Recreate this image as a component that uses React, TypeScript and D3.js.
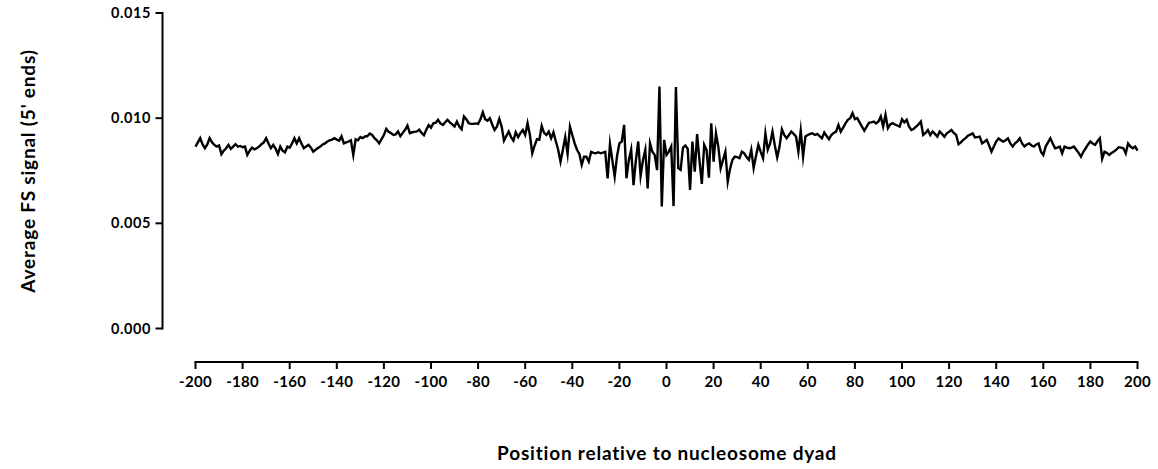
import React from "react";
import * as d3 from "d3";

// Signal values in units of 1e-4 (average FS signal, 5' ends), positions -200..200
const signalNeg200to101 = [
  // -200..-191
  86.5, 88.5, 90.5, 87.5, 85.7, 87.5, 90.5, 88.5, 87.3, 86.5,
  // -190..-181
  87, 82.9, 84.5, 85.7, 87.3, 85.4, 86.5, 87.6, 86.5, 86.8,
  // -180..-171
  86.2, 86.5, 82.5, 84.5, 86, 85.2, 85.7, 86.5, 87.6, 88.5,
  // -170..-161
  90.5, 88, 85.7, 87.3, 85.5, 82.9, 86.5, 84.5, 83.7, 86.5,
  // -160..-151
  86, 88, 90.5, 88, 90.5, 88, 85.7, 86.5, 87.3, 86,
  // -150..-141
  84.1, 85, 85.8, 86.5, 87.5, 88, 88.9, 89.5, 89.8, 90.5,
  // -140..-131
  89.8, 89.3, 91.4, 88, 88.5, 88.9, 89.5, 82.5, 90, 89.5,
  // -130..-121
  91, 90.5, 91.3, 91.5, 92.7, 92, 90.5, 89.5, 88, 90,
  // -120..-111
  92, 94.9, 93.5, 92.9, 92, 92.3, 93.7, 91.4, 93, 94.5,
  // -110..-101
  96.5, 92.9, 93.3, 93.5, 93.7, 94.5, 93, 91.9, 94.5, 96.7,
];
const signalNeg100toNeg1 = [
  // -100..-91
  95.5, 97.6, 97.8, 99.2, 97.5, 96.8, 98, 99.2, 98, 97,
  // -90..-81
  96, 98.4, 96, 94.7, 100.8, 99.5, 97.6, 97.3, 97.3, 97.5,
  // -80..-71
  97.3, 99.5, 102.8, 99.5, 98.8, 100, 97, 94.4, 96, 99.7,
  // -70..-61
  96, 89.3, 91.5, 93.6, 91, 89.3, 93.3, 91, 93, 94.4,
  // -60..-51
  92, 97.6, 92, 83.3, 87, 90, 89.7, 96.3, 93, 92,
  // -50..-41
  93.6, 90.4, 93.3, 89, 85, 79.3, 85, 91, 83, 96,
  // -40..-31
  92, 88, 85, 83, 77.8, 81.7, 81.7, 79.3, 84, 83.5,
  // -30..-21
  83.3, 83.8, 83.3, 83.6, 84, 71.4, 87.7, 80, 72.2, 82,
  // -20..-11
  88, 88.9, 96.8, 71.4, 80, 85, 68.2, 80, 88.9, 72.5,
  // -10..-1
  80, 85, 66.6, 88, 84, 82.5, 75.3, 115, 58, 89.7,
];
const signal0to99 = [
  // 0..9
  82.5, 84.1, 86.5, 58.2, 114.8, 76.2, 75.4, 86, 87, 85.5,
  // 10..19
  65.9, 88.9, 74.6, 92.4, 80, 68.7, 87.3, 84.9, 71.7, 97.6,
  // 20..29
  79.3, 92.8, 86.5, 76.2, 80.2, 84.1, 69.8, 76, 80.2, 81.7,
  // 30..39
  81.5, 81, 84.1, 83.3, 81.5, 80.2, 85, 76.2, 82, 87.3,
  // 40..49
  84, 81, 92.8, 85, 88, 93.6, 87, 81.4, 86.5, 94.7,
  // 50..59
  92, 90.5, 92, 93.6, 92.5, 91.3, 84.1, 94.1, 81.7, 91.3,
  // 60..69
  92, 92.5, 92.8, 92, 92.5, 91.5, 90.5, 93.2, 91.5, 90,
  // 70..79
  92, 93, 93.6, 96.8, 93.6, 95.5, 97.5, 99.2, 100, 102.4,
  // 80..89
  99.5, 100, 98, 96, 94.1, 96, 97.9, 98, 98.4, 97.5,
  // 90..99
  98.4, 100.8, 96, 101.6, 95.2, 97, 97.6, 97, 96.5, 96,
];
const signal100to200 = [
  // 100..109
  99.5, 98, 99.2, 96, 94.4, 95, 96, 97, 98.4, 92,
  // 110..119
  93, 94.4, 92, 93.6, 92.5, 91.2, 93.6, 92.5, 91.2, 92.8,
  // 120..129
  93.5, 94.4, 93, 92, 87.6, 88.5, 89.7, 90.5, 91.7, 92.2,
  // 130..139
  92.8, 90.8, 91, 91.2, 88, 88.8, 89.7, 87, 84.1, 86.5,
  // 140..149
  88.9, 90.4, 89.5, 88.9, 89.5, 90.4, 88, 86.5, 88, 89,
  // 150..159
  90.4, 88, 86.5, 87.5, 88, 87, 86.5, 87.5, 88, 84,
  // 160..169
  82.5, 86.5, 88.5, 90.4, 88, 85.7, 86, 86.5, 83.3, 86.5,
  // 170..179
  86, 85.7, 86, 86.5, 85, 83.5, 81.7, 84, 85.7, 87.5,
  // 180..189
  88.9, 88, 87.3, 89, 90.4, 80.7, 84.1, 83.5, 82.5, 83.5,
  // 190..199
  84.1, 85, 86.2, 86, 85.7, 83.3, 88, 86.5, 85.7, 86.5,
  // 200
  84.6,
];

const signalE4 = [
  ...signalNeg200to101,
  ...signalNeg100toNeg1,
  ...signal0to99,
  ...signal100to200,
];
const startPosition = -200;

const xTicks = [-200, -180, -160, -140, -120, -100, -80, -60, -40, -20, 0, 20, 40, 60, 80, 100, 120, 140, 160, 180, 200];
const yTicks = [0, 0.005, 0.01, 0.015];

const xTitle = "Position relative to nucleosome dyad";
const yTitle = "Average FS signal (5' ends)";

export default function App() {
  const W = 1158;
  const H = 469;
  const data = signalE4.map((v, i) => ({ x: startPosition + i, y: v / 1e4 }));

  const x = d3.scaleLinear().domain([-200, 200]).range([195.5, 1137.5]);
  const y = d3.scaleLinear().domain([0, 0.015]).range([328.5, 13]);

  const line = d3
    .line<{ x: number; y: number }>()
    .x((d) => x(d.x))
    .y((d) => y(d.y))
    .curve(d3.curveLinear);

  const font = "Lato, 'Open Sans', sans-serif";
  const yAxisX = 162.5;
  const xAxisY = 362;

  return (
    <svg
      width={W}
      height={H}
      viewBox={`0 0 ${W} ${H}`}
      style={{ position: "absolute", left: 0, top: 0, background: "#fff" }}
    >
      {/* Y axis */}
      <line x1={yAxisX} x2={yAxisX} y1={y(0.015) - 1} y2={y(0) + 1} stroke="#000" strokeWidth={2} />
      {yTicks.map((t) => (
        <g key={t}>
          <line x1={yAxisX - 7} x2={yAxisX} y1={y(t)} y2={y(t)} stroke="#000" strokeWidth={2} />
          <text
            x={151}
            y={y(t)}
            dy="0.35em"
            textAnchor="end"
            fontFamily={font}
            fontWeight={700}
            fontSize={14.5}
            letterSpacing={0.6}
            fill="#000"
          >
            {d3.format(".3f")(t)}
          </text>
        </g>
      ))}
      <text
        transform={`translate(35, 171) rotate(-90)`}
        textAnchor="middle"
        fontFamily={font}
        fontWeight={700}
        fontSize={19}
        letterSpacing={0.8}
        fill="#000"
      >
        {yTitle}
      </text>

      {/* X axis */}
      <line x1={x(-200) - 1} x2={x(200) + 1} y1={xAxisY} y2={xAxisY} stroke="#000" strokeWidth={2} />
      {xTicks.map((t) => (
        <g key={t}>
          <line x1={x(t)} x2={x(t)} y1={xAxisY} y2={xAxisY + 7} stroke="#000" strokeWidth={2} />
          <text
            x={x(t)}
            y={387}
            textAnchor="middle"
            fontFamily={font}
            fontWeight={700}
            fontSize={15}
            letterSpacing={0.3}
            fill="#000"
          >
            {t}
          </text>
        </g>
      ))}
      <text
        x={667}
        y={460}
        textAnchor="middle"
        fontFamily={font}
        fontWeight={700}
        fontSize={19}
        letterSpacing={0.8}
        fill="#000"
      >
        {xTitle}
      </text>

      {/* Data line */}
      <path d={line(data) || ""} fill="none" stroke="#000" strokeWidth={2.4} strokeLinejoin="miter" strokeMiterlimit={10} />
    </svg>
  );
}
